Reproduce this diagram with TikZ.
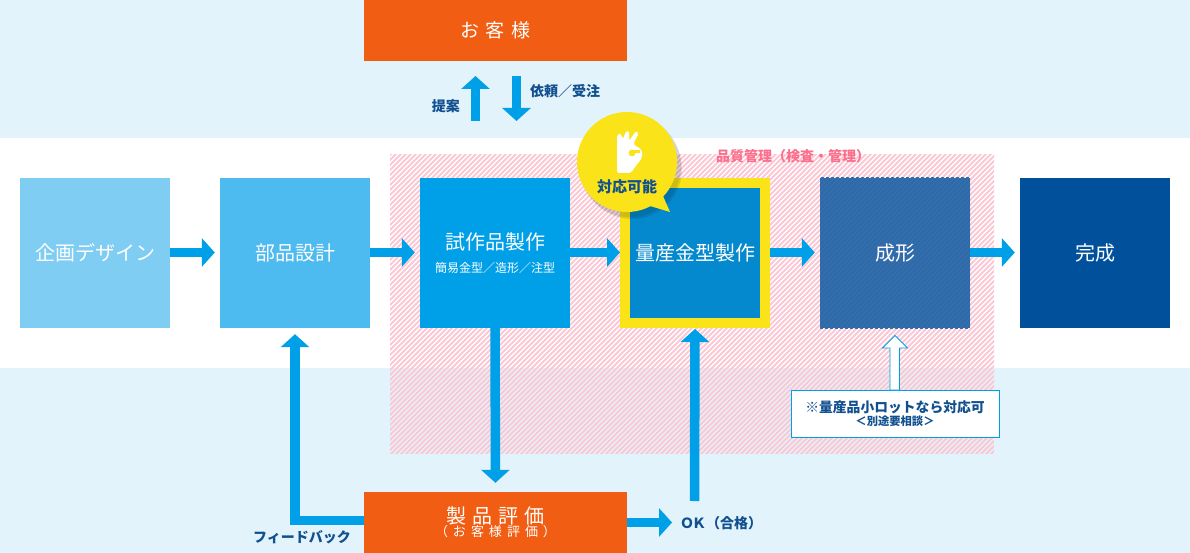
\documentclass[tikz,border=0pt]{standalone}
\usepackage{fontspec}
\setmainfont{Noto Sans CJK JP}
\usetikzlibrary{arrows.meta,calc}
\definecolor{bandblue}{HTML}{E3F3FB}
\definecolor{orangefill}{HTML}{F15E13}
\definecolor{cyanarrow}{HTML}{00A0E9}
\definecolor{navytext}{HTML}{11508F}
\definecolor{pinkstripe}{HTML}{FBC8D4}
\definecolor{pinktext}{HTML}{FB6F8C}
\definecolor{yellowmark}{HTML}{FAE318}
\definecolor{boxa}{HTML}{7FCDF3}
\definecolor{boxb}{HTML}{4DBAF0}
\definecolor{boxd}{HTML}{0489CF}
\definecolor{boxe}{HTML}{356FAD}
\definecolor{boxestripe}{HTML}{2E69A8}
\definecolor{boxf}{HTML}{00509C}
\newcommand{\fs}[1]{\fontsize{#1}{#1}\selectfont}
\tikzset{
  x=1pt,y=-1pt,
  stepbox/.style={minimum width=150pt,minimum height=150pt,inner sep=0pt,text=white,align=center,font=\fs{20}},
  wideorange/.style={fill=orangefill,minimum width=263pt,minimum height=61pt,inner sep=0pt,text=white,align=center},
  flow/.style={draw=cyanarrow,line width=9.5pt,-{Triangle[length=13pt,width=28pt,fill=cyanarrow]}},
  lbl/.style={text=navytext,font=\fs{14}\bfseries,inner sep=0pt},
}
\begin{document}
\begin{tikzpicture}
\useasboundingbox (0,0) rectangle (1190,553);
% bands
\fill[bandblue] (0,0) rectangle (1190,138);
\fill[bandblue] (0,368) rectangle (1190,553);
% hatched quality zone
\begin{scope}
  \clip (390,155) rectangle (994,453);
  \foreach \c in {540,545,...,1450}{
    \draw[pinkstripe,line width=1.9pt] (\c-500,500) -- (\c,0);
  }
\end{scope}
\node[lbl,text=pinktext,anchor=west] (qc) at (716,156) {品質管理（検査・管理）};
% boxes
\node[wideorange] (cust) at (495.5,30.5) {\fs{19}お\hspace{7pt}客\hspace{7pt}様};
\node[wideorange] (eval) at (495.5,522.5)
  {\fs{20}製\hspace{6pt}品\hspace{6pt}評\hspace{6pt}価\\[-1pt]\fs{13}（\hspace{5pt}お\hspace{5pt}客\hspace{5pt}様\hspace{5pt}評\hspace{5pt}価\hspace{5pt}）};
\node[stepbox,fill=boxa] (plan) at (95,253) {企画デザイン};
\node[stepbox,fill=boxb] (parts) at (295,253) {部品設計};
\node[stepbox,fill=cyanarrow] (proto) at (495,253) {試作品製作\\[3pt]\fs{12}簡易金型／造形／注型};
\node[stepbox,fill=boxd,draw=yellowmark,line width=10pt,minimum width=140pt,minimum height=140pt] (mold) at (695,253) {量産金型製作};
\fill[boxe] (820,178) rectangle (970,328);
\begin{scope}
  \clip (820,178) rectangle (970,328);
  \foreach \c in {1000,1005,...,1300}{
    \draw[boxestripe,line width=1.9pt] (\c-500,500) -- (\c,0);
  }
\end{scope}
\node[stepbox] (form) at (895,253) {成形};
\node[stepbox,fill=boxf] (done) at (1095,253) {完成};
% main flow
\foreach \a/\b/\s in {plan/parts/5,parts/proto/5,proto/mold/0,mold/form/5,form/done/5}{
  \draw[flow,shorten >=\s pt] ($(\a.east)+(0,-0.5)$) -- ($(\b.west)+(0,-0.5)$);
}
% customer arrows
\coordinate (upstart) at (475.5,121);
\coordinate (upend) at (475.5,76);
\coordinate (dnstart) at (516.5,76);
\coordinate (dnend) at (516.5,121);
\draw[flow] (upstart) -- (upend);
\draw[flow] (dnstart) -- (dnend);
\node[lbl,anchor=east] (propose) at (460,106) {提案};
\node[lbl,anchor=west] (order) at (530,91) {依頼／受注};
% evaluation arrows
\draw[flow,shorten >=9pt] (proto.south) -- (eval.north);
\draw[flow,shorten >=6pt] ($(eval.west)+(0,-2)$) -| (parts.south);
\coordinate (okstart) at (694.5,501);
\draw[flow,shorten >=1pt] (okstart) -- (mold.south);
\coordinate (okend) at (672,522.5);
\draw[flow] (eval.east) -- (okend);
\node[lbl,anchor=west] (ok) at (680,523) {Ｏ\hspace{-2pt}Ｋ（合格）};
\node[lbl,anchor=east] (fb) at (351,537) {フィードバック};
% note and hollow arrow
\node[draw=cyanarrow,fill=white,line width=0.8pt,minimum width=208pt,minimum height=47pt,inner sep=0pt,align=center,text=navytext,font=\bfseries] (note) at (895,413.5)
  {\fs{13.8}※量産品小ロットなら対応可\\[1pt]\fs{11.3}＜別途要相談＞};
\draw[draw=cyanarrow,fill=white,line width=0.8pt] (890,390) -- (890,348) -- (882.5,348) -- (895,335.5) -- (907.5,348) -- (899.5,348) -- (899.5,390) -- cycle;
% badge
\fill[black,opacity=0.10] (632,169) circle[radius=50];
\fill[black,opacity=0.08] (630,166) circle[radius=51];
\fill[yellowmark] (650,206) -- (670,212) -- (663,196) -- cycle;
\node[circle,fill=yellowmark,minimum size=100pt,inner sep=0pt] (badge) at (627,162) {};
\fill[white,rounded corners=2pt] (617,173) -- (617,135) -- (620,133) -- (623,139) -- (626,131) -- (629,131) -- (629,141) -- (636,131) -- (639,133) -- (633,144) -- (642,150) -- (642,158) -- (635,167) -- (631,173) -- cycle;
\fill[yellowmark] (632,153) circle[radius=3.4];
\fill[yellowmark] (632,150.5) rectangle (640,153);
\node[lbl,font=\fs{15}\bfseries] (bt) at (627,187) {対応可能};
\end{tikzpicture}
\end{document}
